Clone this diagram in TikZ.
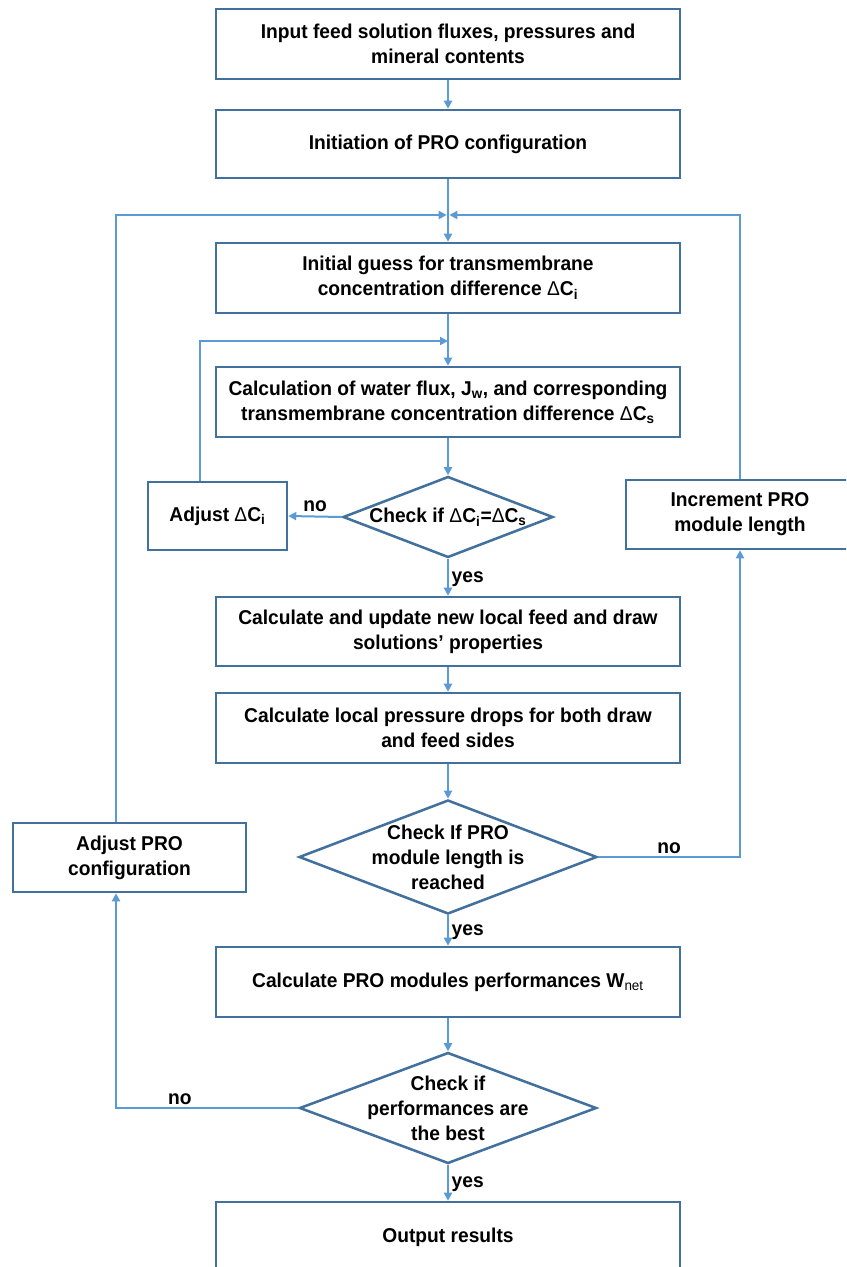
\documentclass[tikz,border=0pt]{standalone}
\usepackage{fontspec}
\setmainfont{Liberation Sans}[FakeStretch=0.96]
\usetikzlibrary{arrows.meta,shapes.geometric}
\definecolor{bordc}{HTML}{41719C}
\definecolor{arrc}{HTML}{5B9BD5}
\newcommand{\dC}[1]{{\mdseries Δ}C\textsubscript{#1}}
\tikzset{
  box/.style={draw=bordc, line width=1.9pt, fill=white, align=center, inner sep=0pt},
  dia/.style={diamond, draw=bordc, line width=1.9pt, fill=white, inner sep=0pt},
  arr/.style={draw=arrc, line width=1.5pt, -{Triangle[length=6pt,width=6pt]}},
  ln/.style={draw=arrc, line width=1.5pt},
  lab/.style={inner sep=1pt}
}
\begin{document}
\begin{tikzpicture}[x=0.75pt,y=-0.75pt,font=\fontsize{15}{18.75}\selectfont\bfseries]
\useasboundingbox (0,0) rectangle (846,1267);
\clip (0,0) rectangle (846,1267);
\fill[white] (0,0) rectangle (846,1267);

% main boxes
\node[box, minimum width={464*0.75pt}, minimum height={70*0.75pt}] (b1) at (448,44)
  {Input feed solution fluxes, pressures and\\mineral contents};
\node[box, minimum width={464*0.75pt}, minimum height={68*0.75pt}] (b2) at (448,144)
  {Initiation of PRO configuration};
\node[box, minimum width={464*0.75pt}, minimum height={70*0.75pt}] (b3) at (448,278)
  {Initial guess for transmembrane\\concentration difference \dC{i}};
\node[box, minimum width={464*0.75pt}, minimum height={70*0.75pt}] (b4) at (448,402)
  {Calculation of water flux, J\textsubscript{w}, and corresponding\\transmembrane concentration difference \dC{s}};
\node[dia, minimum width={210*0.75pt}, minimum height={81*0.75pt},
  label={center:Check if \dC{i}=\dC{s}}] (d1) at (448,517) {};
\node[box, minimum width={139*0.75pt}, minimum height={68*0.75pt}] (adjc) at (217.5,516)
  {Adjust \dC{i}};
\node[box, minimum width={228*0.75pt}, minimum height={69*0.75pt}] (inc) at (740,514.5)
  {Increment PRO\\module length};
\node[box, minimum width={464*0.75pt}, minimum height={69*0.75pt}] (b5) at (448,631.5)
  {Calculate and update new local feed and draw\\solutions’ properties};
\node[box, minimum width={464*0.75pt}, minimum height={70*0.75pt}] (b6) at (448,728)
  {Calculate local pressure drops for both draw\\and feed sides};
\node[dia, minimum width={298*0.75pt}, minimum height={114*0.75pt},
  label={[align=center]center:Check If PRO\\module length is\\reached}] (d2) at (448,857) {};
\node[box, minimum width={233*0.75pt}, minimum height={69*0.75pt}] (adjp) at (129.5,857.5)
  {Adjust PRO\\configuration};
\node[box, minimum width={464*0.75pt}, minimum height={70*0.75pt}] (b7) at (448,982)
  {Calculate PRO modules performances W\textsubscript{\mdseries net}};
\node[dia, minimum width={297*0.75pt}, minimum height={111*0.75pt},
  label={[align=center]center:Check if\\performances are\\the best}] (d3) at (448,1108) {};
\node[box, minimum width={464*0.75pt}, minimum height={70*0.75pt}] (b8) at (448,1237)
  {Output results};

% helper coordinates
\coordinate (merge) at (448,215);
\coordinate (inner) at (448,341);
\coordinate (cL) at (116,215);
\coordinate (cR) at (740,215);
\coordinate (cI) at (200,341);

% connectors
\draw[arr] (b1) -- (b2);
\draw[arr] (b2) -- (b3);
\draw[arr] (b3) -- (b4);
\draw[arr] (b4) -- (d1.north);
\draw[arr] (d1.west) -- (adjc.east) node[lab, midway, above=2pt] {no};
\draw[arr] (cI |- adjc.north) -- (cI) -- (inner);
\draw[arr] (d1.south) -- (b5) node[lab, pos=0.55, right=1pt] {yes};
\draw[arr] (b5) -- (b6);
\draw[arr] (b6) -- (d2.north);
\draw[arr] (d2.east) -- (d2.east -| inc) node[lab, midway, above=1pt] {no} -- (inc.south);
\draw[arr] (inc.north) -- (cR) -- ([xshift=1pt]merge);
\draw[arr] (d2.south) -- (b7) node[lab, pos=0.55, right=1pt] {yes};
\draw[arr] (b7) -- (d3.north);
\draw[arr] (d3.west) -- (d3.west -| cL) node[lab, pos=0.65, above=1pt] {no} -- (adjp.south -| cL);
\draw[arr] (adjp.north -| cL) -- (cL) -- ([xshift=-1pt]merge);
\draw[arr] (d3.south) -- (b8) node[lab, pos=0.55, right=1pt] {yes};
\end{tikzpicture}
\end{document}
